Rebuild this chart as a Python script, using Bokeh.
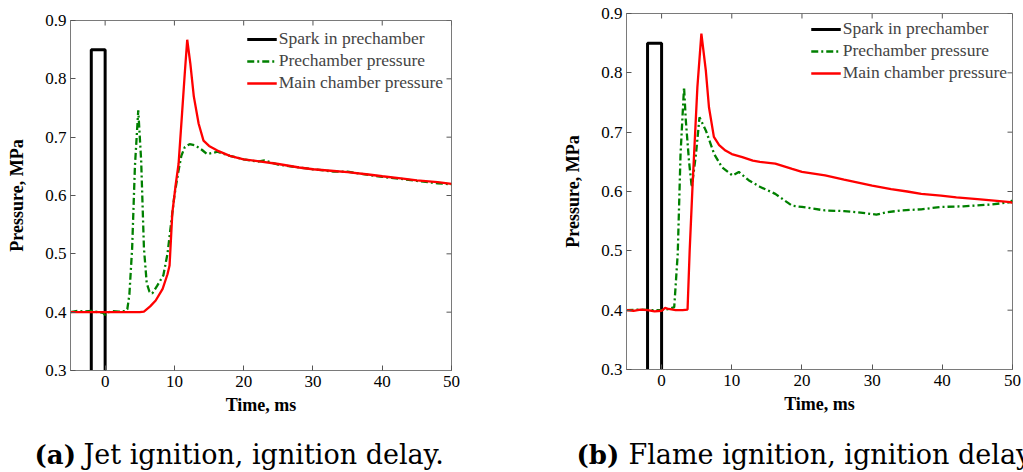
import math
from bokeh.plotting import figure
from bokeh.models import Range1d, FixedTicker, Legend, LegendItem, NumeralTickFormatter
from bokeh.layouts import row, column
from bokeh.embed import file_html
from bokeh.resources import INLINE
from bokeh.core.properties import value

# ---------------- data ----------------
x_ticks = [0, 10, 20, 30, 40, 50]
y_ticks = [0.3, 0.4, 0.5, 0.6, 0.7, 0.8, 0.9]

series_names = ["Spark in prechamber", "Prechamber pressure", "Main chamber pressure"]

spark_t = [-2, -2, 0, 0]
spark_p = [0.3, 0.85, 0.85, 0.3]

# (a) Jet ignition
jet_main_t = [-5, -3, -1, 0, 1, 3, 5, 5.6, 6.5, 7.3, 8.3, 9.0, 9.3, 9.7, 10.2, 10.6, 11.1, 11.5,
              11.85, 12.3, 12.8, 13.5, 14.2, 15, 16.2, 18, 20, 22, 25, 28, 30, 33, 35, 38, 40,
              43, 45, 48, 50]
jet_main_p = [0.400, 0.400, 0.400, 0.400, 0.400, 0.400, 0.400, 0.401, 0.41, 0.42, 0.44, 0.465,
              0.48, 0.57, 0.62, 0.654, 0.74, 0.81, 0.867, 0.826, 0.77, 0.723, 0.694, 0.685,
              0.677, 0.668, 0.662, 0.659, 0.654, 0.648, 0.645, 0.642, 0.640, 0.636, 0.633,
              0.629, 0.626, 0.623, 0.620]
jet_pre_t = [-5, -4, -3, -2, -1, -0.3, 0, 0.3, 1, 2, 3, 3.2, 3.5, 3.9, 4.3, 4.78, 5.2, 5.6, 6.0,
             6.4, 6.8, 7.5, 8.4, 9.0, 9.5, 10.0, 10.6, 11.0, 11.5, 12.2, 13.0, 14.0, 14.7, 15.5,
             16.2, 18, 19, 20, 22, 23, 25, 28, 30, 33, 35, 37, 40, 43, 45, 48, 50]
jet_pre_p = [0.400, 0.402, 0.401, 0.402, 0.400, 0.399, 0.395, 0.399, 0.402, 0.401, 0.402, 0.405,
             0.43, 0.51, 0.65, 0.746, 0.66, 0.51, 0.45, 0.435, 0.432, 0.445, 0.463, 0.50, 0.55,
             0.60, 0.643, 0.668, 0.683, 0.688, 0.686, 0.678, 0.671, 0.673, 0.675, 0.668, 0.665,
             0.662, 0.658, 0.660, 0.653, 0.648, 0.645, 0.641, 0.641, 0.637, 0.632, 0.628, 0.625,
             0.621, 0.619]

# (b) Flame ignition
flame_main_t = [-5, -4, -3, -2, -1, 0, 0.5, 1, 2, 3, 3.7, 4.0, 4.4, 5.1, 5.67, 6.3, 6.75, 7.45,
                8.2, 9.1, 10, 11.5, 13, 14, 16.2, 18.6, 20, 23.3, 26, 28, 30, 32.7, 35, 37,
                39.8, 42, 45, 47, 49.7, 50]
flame_main_p = [0.400, 0.399, 0.401, 0.400, 0.398, 0.399, 0.404, 0.402, 0.400, 0.400, 0.401,
                0.50, 0.607, 0.776, 0.866, 0.804, 0.742, 0.692, 0.678, 0.669, 0.663, 0.658,
                0.652, 0.650, 0.647, 0.638, 0.633, 0.627, 0.620, 0.615, 0.610, 0.604, 0.600,
                0.596, 0.593, 0.590, 0.587, 0.585, 0.582, 0.581]
flame_pre_t = [-5, -3, -1, 0, 1, 1.8, 2.3, 2.7, 3.2, 3.45, 3.9, 4.3, 4.9, 5.4, 6.3, 7.5, 8.6,
               10.1, 11.0, 12.4, 14, 16.2, 18.6, 20, 23.3, 26, 28, 30.6, 32, 34.1, 37, 39.8,
               43, 46.9, 49.7, 50]
flame_pre_p = [0.400, 0.401, 0.400, 0.400, 0.402, 0.405, 0.495, 0.663, 0.776, 0.72, 0.652,
               0.607, 0.663, 0.725, 0.703, 0.663, 0.641, 0.627, 0.633, 0.619, 0.608, 0.596,
               0.576, 0.574, 0.568, 0.567, 0.565, 0.561, 0.565, 0.568, 0.570, 0.574, 0.575,
               0.578, 0.582, 0.585]

captions = [("(a)", "Jet ignition, ignition delay."), ("(b)", "Flame ignition, ignition delay")]

SERIF = "Liberation Serif"
FRAME = "#7a7a7a"
TICK = "#555555"


def make_panel(main_t, main_p, pre_t, pre_p, width, b_left, b_right, b_top, b_bottom,
               leg_margin, leg_padding):
    p = figure(width=width, height=425, x_range=Range1d(-5, 50), y_range=Range1d(0.3, 0.9),
               output_backend="svg", toolbar_location=None, title=None,
               min_border_left=b_left, min_border_right=b_right,
               min_border_top=b_top, min_border_bottom=b_bottom)
    p.grid.visible = False
    p.outline_line_color = FRAME
    p.outline_line_width = 1
    p.background_fill_color = "white"
    p.border_fill_color = "white"

    for ax in (p.xaxis[0], p.yaxis[0]):
        ax.axis_line_color = FRAME
        ax.major_tick_line_color = TICK
        ax.major_tick_in = 5
        ax.major_tick_out = 0
        ax.minor_tick_line_color = None
        ax.major_label_text_font = SERIF
        ax.major_label_text_font_size = "17px"
        ax.major_label_text_color = "black"
        ax.axis_label_text_font = SERIF
        ax.axis_label_text_font_size = "18px"
        ax.axis_label_text_font_style = "bold"
        ax.axis_label_text_color = "black"
    p.xaxis.ticker = FixedTicker(ticks=x_ticks)
    p.yaxis.ticker = FixedTicker(ticks=y_ticks)
    p.yaxis.formatter = NumeralTickFormatter(format="0.0")
    p.xaxis.axis_label = "Time, ms"
    p.yaxis.axis_label = "Pressure, MPa"
    p.xaxis.major_label_standoff = 5
    p.yaxis.major_label_standoff = 4
    p.xaxis.axis_label_standoff = 5
    p.yaxis.axis_label_standoff = 15

    # inward ticks on the top and right edges of the box
    p.ray(x=x_ticks, y=[0.9] * len(x_ticks), length=5, length_units="screen",
          angle=-math.pi / 2, line_color=TICK, line_width=1)
    p.ray(x=[50] * len(y_ticks), y=y_ticks, length=5, length_units="screen",
          angle=math.pi, line_color=TICK, line_width=1)

    r_spark = p.line(spark_t, spark_p, line_color="black", line_width=3)
    r_pre = p.line(pre_t, pre_p, line_color="#008000", line_width=2.3, line_dash="7 3 2 3")
    r_main = p.line(main_t, main_p, line_color="#ff0000", line_width=2.3)

    legend = Legend(items=[LegendItem(label=series_names[0], renderers=[r_spark]),
                           LegendItem(label=series_names[1], renderers=[r_pre]),
                           LegendItem(label=series_names[2], renderers=[r_main])],
                    location="top_right", margin=leg_margin, padding=leg_padding,
                    spacing=1, glyph_width=30, glyph_height=20, label_height=20,
                    label_standoff=2, label_text_font=SERIF, label_text_font_size="17.5px",
                    border_line_color=None, background_fill_alpha=0)
    p.add_layout(legend, "center")
    return p


p1 = make_panel(jet_main_t, jet_main_p, jet_pre_t, jet_pre_p, 560, 70, 109, 20, 55, 8, 5)
p2 = make_panel(flame_main_t, flame_main_p, flame_pre_t, flame_pre_p, 463, 64, 11, 13, 56, 5, 3)

cap = figure(width=1023, height=47, x_range=Range1d(0, 1023), y_range=Range1d(47, 0),
             output_backend="svg", toolbar_location=None, x_axis_location=None,
             y_axis_location=None, min_border=0, title=None)
cap.grid.visible = False
cap.outline_line_color = None
cap_x_bold = [34, 576]
cap_x_text = [83, 628]
cap.text(x=cap_x_bold, y=[29, 29], text=[c[0] for c in captions],
         text_font=value("DejaVu Serif"), text_font_size="26px", text_font_style="bold",
         text_baseline="alphabetic", text_color="black")
cap.text(x=cap_x_text, y=[29, 29], text=[c[1] for c in captions],
         text_font=value("DejaVu Serif"), text_font_size="27px",
         text_baseline="alphabetic", text_color="black")

layout = column(row(column(p1), column(p2)), cap)
open("out.html", "w").write(file_html(layout, INLINE))
